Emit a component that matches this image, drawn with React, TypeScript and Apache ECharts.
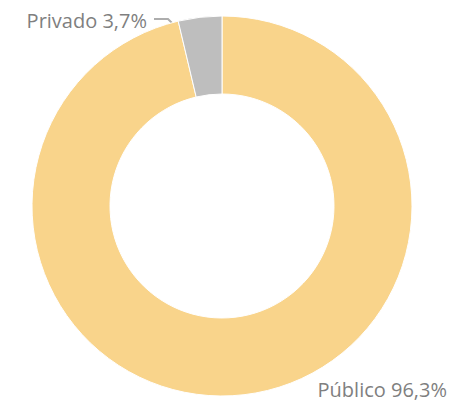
import React, { useEffect, useRef } from "react";
import * as echarts from "echarts";

const categories = ["Público", "Privado"];
const values = [96.3, 3.7];
const colors = ["#F9D48B", "#BEBEBE"];

export default function App() {
  const ref = useRef<HTMLDivElement>(null);
  useEffect(() => {
    if (!ref.current) return;
    const chart = echarts.init(ref.current, null, { renderer: "svg" });
    const data = categories.map((name, i) => ({
      name,
      value: values[i],
      itemStyle: { color: colors[i] },
      labelLine: { show: i === 1 },
    }));
    chart.setOption({
      animation: false,
      series: [
        {
          type: "pie",
          center: [222, 206],
          radius: [112, 190],
          startAngle: 90,
          clockwise: true,
          data,
          itemStyle: { borderColor: "#ffffff", borderWidth: 1 },
          label: {
            show: true,
            position: "outside",
            formatter: (p: any) =>
              p.name + " " + p.value.toFixed(1).replace(".", ",") + "%",
            fontFamily: "Open Sans",
            fontSize: 20,
            color: "#7F7F7F",
          },
          labelLine: {
            show: true,
            lineStyle: { color: "#ADADAD", width: 2 },
          },
          labelLayout: (params: any) => {
            if (params.dataIndex === 1) {
              return {
                x: 147,
                y: 20,
                align: "right",
                verticalAlign: "middle",
                labelLinePoints: [
                  [182, 33],
                  [168, 19],
                  [154, 19],
                ],
              };
            }
            return {
              x: 447,
              y: 389,
              align: "right",
              verticalAlign: "middle",
            };
          },
        },
      ],
    });
    return () => chart.dispose();
  }, []);
  return (
    <div
      ref={ref}
      style={{ position: "absolute", left: 0, top: 0, width: 450, height: 403 }}
    />
  );
}
